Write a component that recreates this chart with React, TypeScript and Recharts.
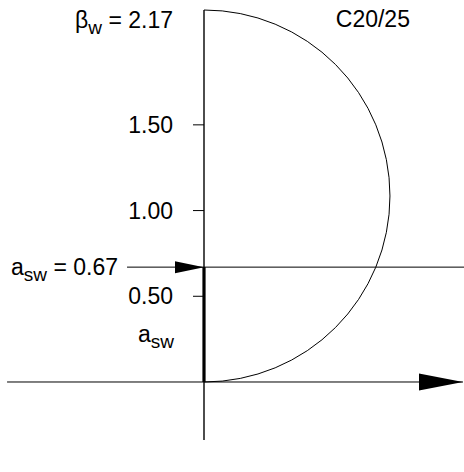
import React from 'react';
import {
  ComposedChart,
  XAxis,
  YAxis,
  ReferenceLine,
  ReferenceArea,
  ReferenceDot,
  Scatter,
} from 'recharts';

// shear resistance diagram values
const betaW = 2.17;
const aSw = 0.67;
const yTicks = [0.5, 1.0, 1.5];
const gradeLabel = 'C20/25';

const FONT = '"Liberation Sans", Arial, sans-serif';
const FS = 23;
const SUB = 19;

// axis extents (same unit scale on both axes so the arc stays round)
const yDomain = [-0.3384, 2.17];
const xDomain = [0, 1.517];
const axisLeft = -1.149;
const axisTip = 1.511;
const aSwLineLeft = -0.449;

const arrowRight = (len: number, half: number) => (props: any) => {
  const { cx, cy } = props;
  return <path d={`M${cx},${cy} L${cx - len},${cy - half} L${cx - len},${cy + half} Z`} fill="#000" />;
};

const HalfCircle = (props: any) => {
  const { x, y, width, height } = props;
  return (
    <path
      d={`M${x},${y + height} A${width},${height / 2} 0 0 0 ${x},${y}`}
      fill="none"
      stroke="#000"
      strokeWidth={1}
    />
  );
};

const Sub = ({ main, sub, rest }: { main: string; sub: string; rest?: string }) => (
  <>
    <tspan>{main}</tspan>
    <tspan fontSize={SUB} dy={6}>{sub}</tspan>
    {rest ? <tspan dy={-6}>{rest}</tspan> : null}
  </>
);

export default function App() {
  return (
    <div style={{ position: 'absolute', left: 0, top: 0, background: '#fff' }}>
      <ComposedChart width={464} height={472} margin={{ top: 10, right: 0, bottom: 32, left: 0 }}>
        <XAxis type="number" dataKey="x" domain={xDomain} hide />
        <YAxis
          type="number"
          dataKey="y"
          width={204}
          domain={yDomain}
          ticks={yTicks}
          interval={0}
          tickFormatter={(v: number) => v.toFixed(2)}
          tickSize={11}
          tickMargin={20}
          axisLine={{ stroke: '#000', strokeWidth: 1.4 }}
          tickLine={{ stroke: '#000' }}
          tick={{ fill: '#000', fontSize: FS, fontFamily: FONT }}
        />

        <ReferenceArea x1={0} x2={betaW / 2} y1={0} y2={betaW} shape={HalfCircle} />

        <ReferenceLine
          segment={[{ x: axisLeft, y: 0 }, { x: axisTip, y: 0 }]}
          stroke="#000"
          strokeWidth={1}
          ifOverflow="visible"
        />
        <ReferenceLine
          segment={[{ x: aSwLineLeft, y: aSw }, { x: xDomain[1], y: aSw }]}
          stroke="#000"
          strokeWidth={1}
          ifOverflow="visible"
          label={(p: any) => (
            <text x={p.viewBox.x - 9} y={p.viewBox.y + 8} textAnchor="end" fontSize={FS} fontFamily={FONT} fill="#000">
              <Sub main="a" sub="sw" rest=" = 0.67" />
            </text>
          )}
        />
        <ReferenceLine
          segment={[{ x: 0, y: 0 }, { x: 0, y: aSw }]}
          stroke="#000"
          strokeWidth={3.2}
          ifOverflow="visible"
          label={(p: any) => (
            <text x={p.viewBox.x - 30} y={p.viewBox.y + 75} textAnchor="end" fontSize={FS} fontFamily={FONT} fill="#000">
              <Sub main="a" sub="sw" />
            </text>
          )}
        />

        <ReferenceDot
          x={0}
          y={betaW}
          r={0}
          stroke="none"
          label={(p: any) => (
            <text x={p.viewBox.x - 31} y={p.viewBox.y + 18} textAnchor="end" fontSize={FS} fontFamily={FONT} fill="#000">
              <Sub main="β" sub="w" rest={` = ${betaW.toFixed(2)}`} />
            </text>
          )}
        />
        <ReferenceDot
          x={betaW / 2}
          y={betaW}
          r={0}
          stroke="none"
          label={(p: any) => (
            <text x={p.viewBox.x + 20} y={p.viewBox.y + 17} textAnchor="end" fontSize={FS} fontFamily={FONT} fill="#000">
              {gradeLabel}
            </text>
          )}
        />

        <Scatter data={[{ x: axisTip, y: 0 }]} shape={arrowRight(44, 8.5)} isAnimationActive={false} />
        <Scatter data={[{ x: 0, y: aSw }]} shape={arrowRight(29, 6)} isAnimationActive={false} />
      </ComposedChart>
    </div>
  );
}
